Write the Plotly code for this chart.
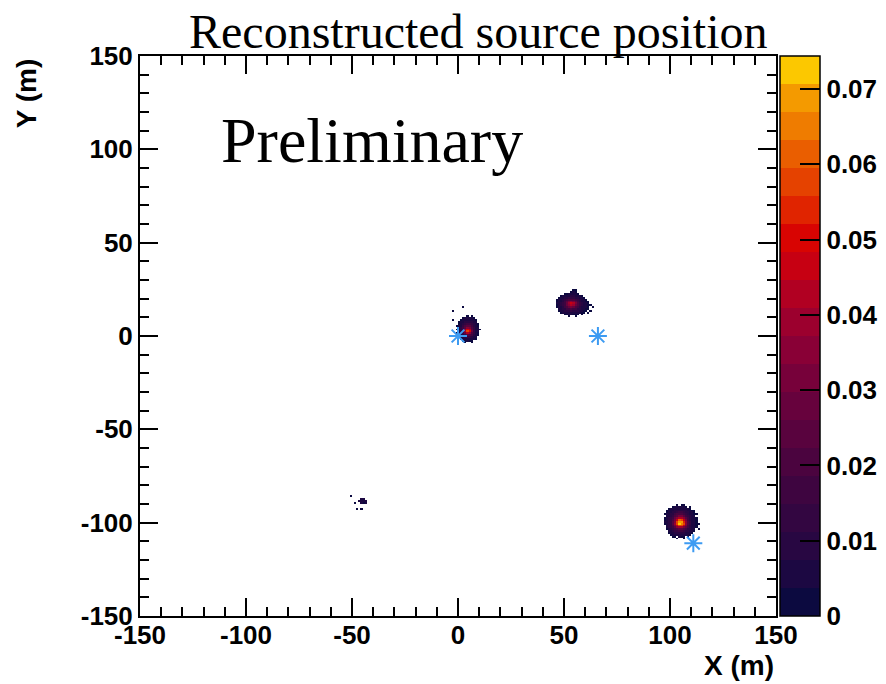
import numpy as np
import plotly.graph_objects as go

# ---------------- data ----------------
HIST_MIN = -150          # histogram range (1 m bins)
HIST_MAX = 150
Z_MAX = 0.0744           # top of colour axis
UNIT = 0.001             # blob values below are in units of 0.001

# Blob A (near 105, -101): first column x = 97, first row y = -91, rows go downwards
BLOB_A_X0 = 97
BLOB_A_Y0 = -91
BLOB_A = [
    [0, 0, 0, 0, 0, 0, 3, 0, 3, 3, 0, 0, 0, 0, 0, 0, 0, 0],
    [0, 0, 0, 0, 3, 4, 4, 5, 4, 4, 3, 0, 3, 0, 0, 0, 0, 0],
    [0, 0, 3, 4, 5, 6, 6, 7, 7, 6, 5, 4, 3, 0, 0, 0, 0, 0],
    [0, 3, 4, 6, 7, 8, 9, 10, 10, 9, 8, 6, 5, 3, 3, 0, 0, 0],
    [0, 3, 5, 7, 9, 11, 13, 15, 15, 13, 10, 8, 6, 4, 3, 0, 0, 0],
    [3, 4, 6, 8, 11, 15, 19, 21, 21, 18, 14, 10, 7, 5, 3, 3, 0, 0],
    [0, 4, 7, 10, 14, 20, 26, 30, 30, 25, 18, 12, 8, 5, 4, 0, 0, 0],
    [3, 5, 8, 12, 18, 27, 37, 44, 43, 35, 24, 15, 9, 6, 4, 3, 0, 0],
    [3, 5, 9, 13, 21, 33, 48, 60, 58, 46, 30, 18, 11, 6, 4, 3, 0, 0],
    [4, 6, 9, 14, 23, 37, 56, 70, 68, 55, 34, 20, 12, 7, 4, 3, 0, 0],
    [3, 6, 9, 14, 23, 38, 58, 72, 66, 57, 35, 20, 12, 7, 5, 3, 3, 0],
    [0, 5, 9, 13, 21, 33, 48, 58, 56, 45, 30, 18, 11, 7, 4, 3, 0, 0],
    [0, 4, 8, 12, 17, 25, 34, 40, 39, 32, 23, 15, 9, 6, 4, 3, 0, 0],
    [0, 3, 6, 10, 13, 18, 22, 25, 24, 21, 16, 11, 8, 5, 4, 0, 3, 0],
    [0, 0, 4, 7, 9, 12, 14, 15, 15, 14, 11, 8, 6, 4, 3, 0, 0, 0],
    [0, 0, 3, 5, 6, 8, 9, 10, 10, 9, 7, 6, 4, 3, 0, 0, 0, 0],
    [0, 0, 0, 3, 4, 5, 5, 6, 6, 5, 5, 4, 3, 0, 0, 0, 0, 0],
    [0, 0, 0, 0, 3, 3, 0, 4, 3, 3, 0, 3, 0, 0, 0, 0, 0, 0],
    [0, 0, 0, 0, 0, 0, 3, 0, 0, 3, 0, 0, 0, 0, 0, 0, 0, 0],
]

# Blob B (near 53, 17): first column x = 46, first row y = 24
BLOB_B_X0 = 46
BLOB_B_Y0 = 24
BLOB_B = [
    [0, 0, 0, 0, 0, 0, 0, 0, 3, 3, 0, 0, 0, 0, 0, 0, 0, 0],
    [0, 0, 0, 0, 0, 0, 0, 3, 4, 3, 0, 0, 0, 0, 0, 0, 0, 0],
    [0, 0, 0, 0, 3, 3, 4, 5, 5, 4, 3, 0, 0, 0, 0, 0, 0, 0],
    [0, 0, 3, 4, 5, 6, 7, 8, 8, 7, 6, 5, 3, 0, 0, 0, 0, 0],
    [0, 3, 4, 6, 8, 10, 12, 13, 13, 11, 9, 7, 5, 3, 0, 0, 0, 0],
    [3, 4, 6, 8, 12, 16, 20, 22, 21, 17, 13, 9, 6, 4, 3, 0, 0, 0],
    [3, 5, 7, 11, 16, 23, 30, 34, 32, 25, 17, 11, 7, 5, 3, 3, 0, 0],
    [4, 5, 8, 12, 18, 28, 39, 46, 42, 31, 20, 13, 8, 5, 4, 3, 0, 0],
    [3, 5, 8, 12, 18, 27, 37, 43, 40, 29, 19, 12, 8, 5, 4, 3, 3, 0],
    [3, 5, 7, 10, 15, 21, 27, 31, 29, 22, 16, 10, 7, 5, 4, 3, 0, 3],
    [0, 4, 6, 8, 11, 15, 18, 19, 18, 15, 11, 8, 6, 4, 3, 3, 0, 0],
    [0, 3, 4, 6, 8, 10, 11, 12, 11, 10, 8, 6, 5, 3, 3, 0, 3, 0],
    [0, 0, 3, 4, 5, 6, 6, 7, 6, 6, 5, 4, 3, 3, 0, 3, 0, 0],
    [0, 0, 0, 0, 3, 3, 4, 4, 3, 3, 3, 0, 3, 0, 0, 0, 0, 0],
    [0, 0, 0, 0, 0, 0, 3, 0, 0, 3, 0, 0, 0, 0, 0, 0, 0, 0],
]

# Blob C (near 4, 2): first column x = -1, first row y = 10
BLOB_C_X0 = -1
BLOB_C_Y0 = 10
BLOB_C = [
    [0, 0, 0, 0, 0, 3, 0, 3, 0, 0, 0, 0],
    [0, 0, 0, 3, 4, 4, 5, 4, 3, 0, 0, 0],
    [0, 0, 3, 4, 6, 7, 7, 6, 4, 3, 0, 0],
    [0, 3, 4, 7, 9, 11, 11, 9, 6, 4, 0, 0],
    [0, 3, 6, 9, 14, 17, 16, 12, 8, 5, 3, 0],
    [3, 4, 7, 12, 19, 25, 23, 16, 10, 6, 3, 0],
    [0, 5, 8, 15, 26, 36, 33, 21, 12, 7, 4, 0],
    [3, 5, 9, 18, 34, 50, 44, 26, 14, 7, 4, 3],
    [0, 5, 9, 19, 38, 58, 50, 28, 14, 7, 4, 0],
    [3, 4, 8, 16, 29, 42, 37, 22, 12, 6, 3, 0],
    [0, 4, 6, 11, 18, 24, 22, 15, 9, 5, 3, 0],
    [0, 3, 5, 7, 10, 12, 12, 9, 6, 4, 0, 0],
    [0, 0, 3, 4, 6, 7, 7, 5, 4, 3, 0, 0],
    [0, 0, 0, 3, 3, 4, 3, 3, 0, 0, 0, 0],
    [0, 0, 0, 0, 3, 0, 0, 3, 0, 0, 0, 0],
]

# isolated filled bins (x, y lower bin edges, value in 0.001)
DOTS_X = [-3, 2, -3, -51, -46, -45, -47, -46, -45, -44, -46, -45, -44, -49, -48, -46]
DOTS_Y = [13, 15, 8, -86, -88, -88, -89, -89, -89, -89, -90, -90, -90, -90, -93, -93]
DOTS_V = [3, 3, 3, 3, 4, 5, 4, 6, 5, 4, 4, 3, 4, 3, 3, 3]

# true source positions (blue stars)
SOURCES_X = [0, 66, 111]
SOURCES_Y = [0, 0, -111]

AXIS_TICKS = [-150, -100, -50, 0, 50, 100, 150]
AXIS_LABELS = ["-150", "-100", "-50", "0", "50", "100", "150"]
MINOR_TICKS = [v for v in range(-140, 150, 10) if v % 50 != 0]
CBAR_TICKS = [0, 0.01, 0.02, 0.03, 0.04, 0.05, 0.06, 0.07]
CBAR_LABELS = ["0", "0.01", "0.02", "0.03", "0.04", "0.05", "0.06", "0.07"]

# 20 palette bands, bottom to top
BAND_COLORS = [
    "#0c0a40", "#1c0842", "#280742", "#330641", "#3e0540",
    "#4b043f", "#59033e", "#67023d", "#77013a", "#890036",
    "#9c002e", "#b10022", "#c70012", "#d80402", "#e02400",
    "#e54200", "#ea5e00", "#ef7c00", "#f49a00", "#fcc800",
]

# ---------------- build histogram ----------------
N = HIST_MAX - HIST_MIN
z = np.full((N, N), np.nan)


def put(x, y, v):
    if v > 0:
        z[y - HIST_MIN, x - HIST_MIN] = v * UNIT


for x0, y0, rows in [(BLOB_A_X0, BLOB_A_Y0, BLOB_A),
                     (BLOB_B_X0, BLOB_B_Y0, BLOB_B),
                     (BLOB_C_X0, BLOB_C_Y0, BLOB_C)]:
    for r, row in enumerate(rows):
        for c, v in enumerate(row):
            put(x0 + c, y0 - r, v)
for x, y, v in zip(DOTS_X, DOTS_Y, DOTS_V):
    put(x, y, v)

centers = np.arange(N) + HIST_MIN + 0.5

nb = len(BAND_COLORS)
colorscale = []
for k, col in enumerate(BAND_COLORS):
    colorscale.append([k / nb, col])
    colorscale.append([(k + 1) / nb, col])

TICKFONT = dict(family="Liberation Sans", size=26, color="black", weight="bold")

fig = go.Figure()
fig.add_trace(go.Heatmap(
    x=centers, y=centers, z=z, zmin=0, zmax=Z_MAX,
    colorscale=colorscale, hoverongaps=False, zsmooth=False,
    colorbar=dict(
        thickness=40, thicknessmode="pixels", len=1, lenmode="fraction",
        x=1.0063, xanchor="left", xpad=0, y=0.5, yanchor="middle", ypad=0,
        outlinewidth=1.5, outlinecolor="black",
        tickmode="array", tickvals=CBAR_TICKS, ticktext=CBAR_LABELS,
        ticks="inside", ticklen=20, tickwidth=1.5, tickcolor="black",
        tickfont=TICKFONT,
    ),
))
fig.add_trace(go.Scatter(
    x=SOURCES_X, y=SOURCES_Y, mode="markers", showlegend=False,
    marker=dict(symbol="asterisk-open", size=15, color="#3d9bf2",
                line=dict(width=2, color="#3d9bf2")),
))

axis_common = dict(
    range=[HIST_MIN, HIST_MAX], tickmode="array", tickvals=AXIS_TICKS, ticktext=AXIS_LABELS,
    ticks="inside", ticklen=18, tickwidth=1.5, tickcolor="black",
    showline=True, linewidth=2, linecolor="black", mirror="ticks",
    showgrid=False, zeroline=False, tickfont=TICKFONT, automargin=False,
    minor=dict(tickmode="array", tickvals=MINOR_TICKS, ticks="inside", ticklen=9,
               tickwidth=1.5, tickcolor="black", showgrid=False),
)

fig.update_layout(
    width=878, height=676,
    margin=dict(l=132, r=110, t=48, b=68, autoexpand=False),
    paper_bgcolor="white", plot_bgcolor="white",
    xaxis=dict(axis_common, ticklabelstandoff=-5), yaxis=axis_common,
    showlegend=False,
    annotations=[
        dict(text="Reconstructed source position", xref="paper", yref="paper",
             x=0.533, y=1.044, xanchor="center", yanchor="middle", showarrow=False,
             font=dict(family="Liberation Serif", size=48, color="black")),
        dict(text="Preliminary", xref="paper", yref="paper",
             x=0.365, y=0.85, xanchor="center", yanchor="middle", showarrow=False,
             font=dict(family="Liberation Serif", size=64, color="black")),
        dict(text="X (m)", xref="paper", yref="paper",
             x=1.0, y=-0.088, xanchor="right", yanchor="middle", showarrow=False,
             font=dict(family="Liberation Sans", size=28, color="black", weight="bold")),
        dict(text="Y (m)", xref="paper", yref="paper", textangle=-90,
             x=-0.179, y=1.0, xanchor="center", yanchor="top", showarrow=False,
             font=dict(family="Liberation Sans", size=28, color="black", weight="bold")),
    ],
)

fig.write_html("out.html")
